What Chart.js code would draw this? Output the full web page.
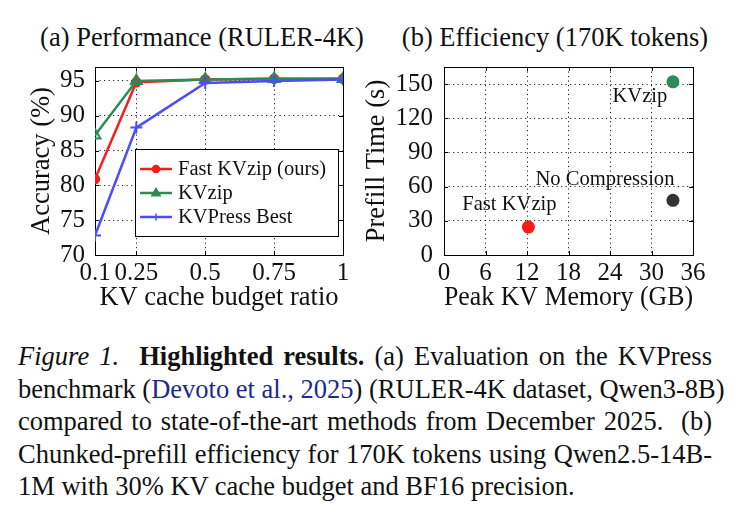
<!DOCTYPE html>
<html>
<head>
<meta charset="utf-8">
<script src="https://cdn.jsdelivr.net/npm/chart.js@4"></script>
<style>
  body { margin: 0; background: #fff; width: 739px; height: 512px; position: relative; overflow: hidden;
         font-family: "Liberation Serif", "Times New Roman", serif; color: #111; }
  .box { position: absolute; }
  .title { position: absolute; top: 22px; font-size: 26.5px; line-height: 30px; white-space: nowrap; transform: translateX(-50%); }
  .cap { position: absolute; left: 18px; top: 340px; width: 694px; font-size: 26.5px; line-height: 32.6px; }
  .ln { white-space: nowrap; text-align: justify; text-align-last: justify; }
  .ln.last { text-align-last: left; }
  .cite { color: #1b2a8f; }
</style>
</head>
<body>
<div class="title" style="left:202px">(a) Performance (RULER-4K)</div>
<div class="title" style="left:555px">(b) Efficiency (170K tokens)</div>

<div class="box" style="left:0;top:0;width:360px;height:330px"><canvas id="perf"></canvas></div>
<div class="box" style="left:360px;top:0;width:379px;height:330px"><canvas id="eff"></canvas></div>

<div class="cap">
  <div class="ln"><i>Figure 1.</i>&nbsp; <b>Highlighted results.</b> (a) Evaluation on the KVPress</div>
  <div class="ln">benchmark (<span class="cite">Devoto et al., 2025</span>) (RULER-4K dataset, Qwen3-8B)</div>
  <div class="ln">compared to state-of-the-art methods from December 2025.&nbsp; (b)</div>
  <div class="ln">Chunked-prefill efficiency for 170K tokens using Qwen2.5-14B-</div>
  <div class="ln last">1M with 30% KV cache budget and BF16 precision.</div>
</div>

<script>
// ---- (a) accuracy vs budget ratio
const ratios = [0.1, 0.25, 0.5, 0.75, 1];
const fastKVzipAcc = [80.9, 94.8, 95.2, 95.3, 95.3];
const kvzipAcc = [87.2, 95.0, 95.2, 95.3, 95.3];
const kvpressAcc = [72.8, 88.3, 94.7, 95.0, 95.2];
const ratioTicks = [0.1, 0.25, 0.5, 0.75, 1];
const accTicks = [70, 75, 80, 85, 90, 95];

// ---- (b) prefill time vs peak memory
const methods = ["Fast KVzip", "No Compression", "KVzip"];
const peakMemGB = [12.2, 33.1, 33.1];
const prefillSec = [24.5, 48, 152];
const memTicks = [0, 6, 12, 18, 24, 30, 36];
const timeTicks = [0, 30, 60, 90, 120, 150];

const SERIF = "'Liberation Serif', 'Times New Roman', serif";
const RED = "#ff1a1a", GREEN = "#2e8b57", BLUE = "#4b4bff", DARK = "#333333";

Chart.defaults.font.family = SERIF;
Chart.defaults.color = "#111";

function pts(xs, ys) { return xs.map((x, i) => ({ x: x, y: ys[i] })); }

// draws the box round the plot area + inward ticks on all sides
const framePlugin = {
    id: "frame",
    beforeDatasetsDraw(chart) {
        const { ctx, chartArea: a, scales } = chart;
        ctx.save();
        ctx.strokeStyle = "#000";
        ctx.lineWidth = 1;
        const xs = scales.x, ys = scales.y;
        const xt = xs.ticks.map(t => t.value), yt = ys.ticks.map(t => t.value);
        ctx.beginPath();
        xt.forEach(v => {
            const p = Math.round(xs.getPixelForValue(v)) + 0.5;
            ctx.moveTo(p, a.bottom); ctx.lineTo(p, a.bottom - 4);
            ctx.moveTo(p, a.top); ctx.lineTo(p, a.top + 4);
        });
        yt.forEach(v => {
            const p = Math.round(ys.getPixelForValue(v)) + 0.5;
            ctx.moveTo(a.left, p); ctx.lineTo(a.left + 4, p);
            ctx.moveTo(a.right, p); ctx.lineTo(a.right - 4, p);
        });
        ctx.stroke();
        ctx.strokeRect(Math.round(a.left) + 0.5, Math.round(a.top) + 0.5,
            Math.round(a.right - a.left), Math.round(a.bottom - a.top));
        ctx.restore();
    }
};

function marker(ctx, style, x, y, r, fill, stroke) {
    ctx.save();
    ctx.fillStyle = fill; ctx.strokeStyle = stroke; ctx.lineWidth = 1.5;
    ctx.beginPath();
    if (style === "circle") { ctx.arc(x, y, r, 0, Math.PI * 2); ctx.fill(); ctx.stroke(); }
    else if (style === "triangle") {
        ctx.moveTo(x, y - r); ctx.lineTo(x + r * 0.95, y + r * 0.6); ctx.lineTo(x - r * 0.95, y + r * 0.6);
        ctx.closePath(); ctx.fill(); ctx.stroke();
    } else { ctx.moveTo(x - r, y); ctx.lineTo(x + r, y); ctx.moveTo(x, y - r); ctx.lineTo(x, y + r); ctx.stroke(); }
    ctx.restore();
}

// legend inside the plot, like the pgfplots one
const boxLegend = {
    id: "boxLegend",
    afterDraw(chart) {
        const { ctx, chartArea: a } = chart;
        const x0 = a.left + 40, y0 = a.top + 82, w = a.right - 5 - x0, h = 87;
        ctx.save();
        ctx.fillStyle = "#fff";
        ctx.fillRect(x0, y0, w, h);
        ctx.strokeStyle = "#000"; ctx.lineWidth = 1;
        ctx.strokeRect(Math.round(x0) + 0.5, Math.round(y0) + 0.5, Math.round(w), Math.round(h));
        ctx.font = "20.5px " + SERIF;
        ctx.textBaseline = "middle";
        chart.data.datasets.forEach((ds, i) => {
            const yy = y0 + 20 + i * 24;
            ctx.strokeStyle = ds.borderColor; ctx.lineWidth = 2.5;
            ctx.beginPath(); ctx.moveTo(x0 + 5, yy); ctx.lineTo(x0 + 37, yy); ctx.stroke();
            marker(ctx, ds.pointStyle, x0 + 21, yy, ds.pointStyle === "triangle" ? 4.5 : 3.5, ds.borderColor, ds.borderColor);
            ctx.fillStyle = "#111";
            ctx.fillText(ds.label, x0 + 43, yy + 1);
        });
        ctx.restore();
    }
};

// text labels next to the scatter points
const pointLabels = {
    id: "pointLabels",
    afterDatasetsDraw(chart, args, opts) {
        const { ctx } = chart;
        const meta = chart.getDatasetMeta(0);
        ctx.save();
        ctx.font = "20.6px " + SERIF;
        ctx.fillStyle = "#111";
        ctx.textAlign = "center";
        ctx.textBaseline = "middle";
        meta.data.forEach((el, i) => {
            const off = opts.offsets[i];
            ctx.fillText(methods[i], el.x + off[0], el.y + off[1]);
        });
        ctx.restore();
    }
};

const gridOpts = { color: "#222", lineWidth: 1, drawTicks: false };
const borderOpts = { display: false, dash: [1.2, 3.3] };

new Chart(document.getElementById("perf"), {
    type: "line",
    data: {
        datasets: [
            { label: "Fast KVzip (ours)", data: pts(ratios, fastKVzipAcc), borderColor: RED, backgroundColor: RED,
              pointStyle: "circle", pointRadius: 4, borderWidth: 2.5, order: 3 },
            { label: "KVzip", data: pts(ratios, kvzipAcc), borderColor: GREEN, backgroundColor: "rgba(46,139,87,0.3)",
              pointStyle: "triangle", pointRadius: 6.5, pointBorderWidth: 1.8, borderWidth: 2.5, order: 2 },
            { label: "KVPress Best", data: pts(ratios, kvpressAcc), borderColor: BLUE, backgroundColor: BLUE,
              pointStyle: "cross", pointRadius: 6, pointBorderWidth: 2, borderWidth: 2.5, order: 1 }
        ]
    },
    options: {
        responsive: true, maintainAspectRatio: false, animation: false,
        layout: { padding: { top: 67, right: 17, bottom: 12, left: 22 } },
        plugins: { legend: { display: false }, tooltip: { enabled: false } },
        scales: {
            x: {
                type: "linear", min: 0.1, max: 1,
                afterBuildTicks: s => { s.ticks = ratioTicks.map(v => ({ value: v })); },
                afterFit: s => { s.height = 63; },
                ticks: { font: { size: 25 }, padding: 3, maxRotation: 0, callback: v => String(v) },
                grid: gridOpts, border: borderOpts,
                title: { display: true, text: "KV cache budget ratio", font: { size: 26.5 }, padding: { top: 4, bottom: 4 } }
            },
            y: {
                min: 70, max: 97,
                afterBuildTicks: s => { s.ticks = accTicks.map(v => ({ value: v })); },
                afterFit: s => { s.width = 73; },
                ticks: { font: { size: 25 }, padding: 10 },
                grid: gridOpts, border: borderOpts,
                title: { display: true, text: "Accuracy (%)", font: { size: 26.5 }, padding: { top: 4, bottom: 0 } }
            }
        }
    },
    plugins: [framePlugin, boxLegend]
});

new Chart(document.getElementById("eff"), {
    type: "scatter",
    data: {
        datasets: [{
            label: "Prefill",
            data: pts(peakMemGB, prefillSec),
            backgroundColor: [RED, DARK, GREEN],
            borderWidth: 0, pointRadius: 6.5
        }]
    },
    options: {
        responsive: true, maintainAspectRatio: false, animation: false,
        layout: { padding: { top: 67, right: 46, bottom: 12, left: 1 } },
        plugins: {
            legend: { display: false }, tooltip: { enabled: false },
            pointLabels: { offsets: [[-19, -22], [-68, -21], [-33, 15]] }
        },
        scales: {
            x: {
                type: "linear", min: 0, max: 36,
                afterBuildTicks: s => { s.ticks = memTicks.map(v => ({ value: v })); },
                afterFit: s => { s.height = 63; },
                ticks: { font: { size: 25 }, padding: 3, maxRotation: 0 },
                grid: gridOpts, border: borderOpts,
                title: { display: true, text: "Peak KV Memory (GB)", font: { size: 26.5 }, padding: { top: 4, bottom: 4 } }
            },
            y: {
                min: 0, max: 165,
                afterBuildTicks: s => { s.ticks = timeTicks.map(v => ({ value: v })); },
                afterFit: s => { s.width = 83; },
                ticks: { font: { size: 25 }, padding: 11 },
                grid: gridOpts, border: borderOpts,
                title: { display: true, text: "Prefill Time (s)", font: { size: 26.5 }, padding: { top: 0, bottom: 0 } }
            }
        }
    },
    plugins: [framePlugin, pointLabels]
});
</script>
</body>
</html>
